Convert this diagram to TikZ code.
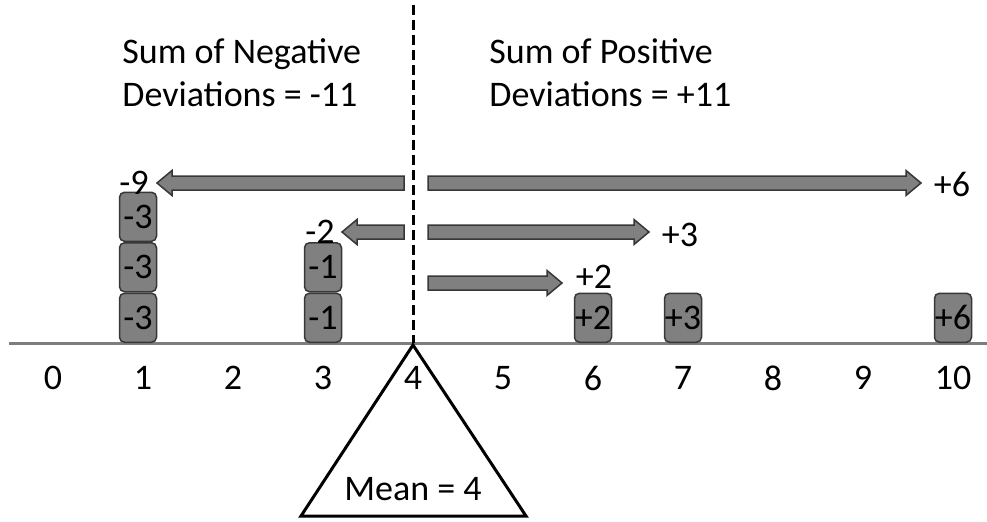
\documentclass[tikz,border=0pt]{standalone}
\usepackage{fontspec}
\setmainfont{Carlito}
\usetikzlibrary{positioning}
\definecolor{boxfill}{RGB}{128,128,128}
\definecolor{boxedge}{RGB}{55,55,55}
\definecolor{axisgray}{RGB}{125,125,125}
\tikzset{
  txt/.style={font=\fontsize{18}{22}\selectfont, inner sep=0pt},
  devbox/.style={txt, draw=boxedge, line width=0.75pt, fill=boxfill, rounded corners=2.5pt, minimum width=18.5pt, minimum height=24.5pt},
  devshape/.style={draw=boxedge, line width=0.75pt, fill=boxfill, line join=miter},
}
% block arrow: y, tail x, tip x, signed head length
\newcommand{\devarrow}[4]{%
  \draw[devshape] (#2,{#1-7}) -- ({#3-(#4)},{#1-7}) -- ({#3-(#4)},{#1-12.5}) -- (#3,#1)
    -- ({#3-(#4)},{#1+12.5}) -- ({#3-(#4)},{#1+7}) -- (#2,{#1+7}) -- cycle;}

\begin{document}
\begin{tikzpicture}[x=0.5pt, y=0.5pt]
  \useasboundingbox (0,0) rectangle (987,521);
  % Number line
  \foreach \n in {0,...,10} {
    \coordinate (p\n) at (53+90*\n,178);
    \node[txt] (t\n) at (53+90*\n,143) {\n};
  }
  \coordinate (axL) at (9,178);
  \coordinate (axR) at (987,178);
  \draw[axisgray, line width=1.5pt] (axL) -- (axR);
  % Mean line
  \coordinate (mtop) at (413,516);
  \draw[black, line width=1.5pt, dash pattern=on 5pt off 2.5pt] (mtop) -- (p4);
  % Fulcrum
  \draw[line width=1.5pt, line join=miter] (p4) ++(0,-2) -- ++(-112,-171) -- ++(225,0) -- cycle;
  \node[txt] (mean) at (413,32) {Mean = 4};
  % Deviation boxes
  \node[devbox, anchor=south] (a1) at ([xshift=-2.5pt]p1) {-3};
  \node[devbox, above=0pt of a1] (a2) {-3};
  \node[devbox, above=0pt of a2] (a3) {-3};
  \node[devbox, anchor=south] (b1) at (p3) {-1};
  \node[devbox, above=0pt of b1] (b2) {-1};
  \node[devbox, anchor=south] (c1) at (p6) {+2};
  \node[devbox, anchor=south] (d1) at (p7) {+3};
  \node[devbox, anchor=south] (e1) at (p10) {+6};
  % Deviation arrows
  \devarrow{338}{404}{157}{-15}
  \devarrow{289}{404}{342}{-15}
  \devarrow{338}{428}{921}{15}
  \devarrow{289}{428}{649}{15}
  \devarrow{238}{428}{562}{15}
  % Arrow labels
  \node[txt] (n9) at (134,338) {-9};
  \node[txt] (n2) at (320,289) {-2};
  \node[txt] (q6) at (952,337) {+6};
  \node[txt] (q3) at (680,286) {+3};
  \node[txt] (q2) at (594,244) {+2};
  % Sums
  \node[txt, anchor=base west] (negA) at (122,458) {Sum of Negative};
  \node[txt, anchor=base west] (negB) at ([yshift=-21.5pt]negA.base west) {Deviations = -11};
  \node[txt, anchor=base west] (posA) at (489,458) {Sum of Positive};
  \node[txt, anchor=base west] (posB) at ([yshift=-21.5pt]posA.base west) {Deviations = +11};
\end{tikzpicture}
\end{document}
